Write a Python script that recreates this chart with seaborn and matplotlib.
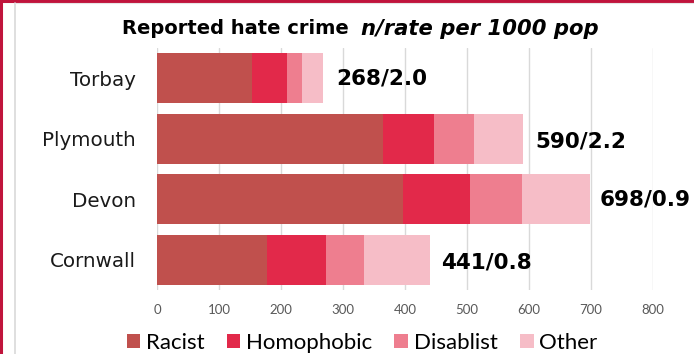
import matplotlib
matplotlib.use("Agg")
import matplotlib.pyplot as plt
import seaborn as sns
import pandas as pd
import numpy as np
from matplotlib.lines import Line2D
from matplotlib.patches import Patch

areas = ["Torbay", "Plymouth", "Devon", "Cornwall"]
racist = [154, 365, 396, 178]
homophobic = [55, 82, 109, 95]
disablist = [25, 64, 83, 61]
other = [34, 79, 110, 107]
totals = [268, 590, 698, 441]
rates = ["2.0", "2.2", "0.9", "0.8"]
series_names = ["Racist", "Homophobic", "Disablist", "Other"]
colors = ["#C0504D", "#E2294A", "#EE7E8F", "#F6BDC7"]

sns.set_theme(style="white")
plt.rcParams["font.family"] = ["DejaVu Sans"]
plt.rcParams["text.color"] = "black"

fig = plt.figure(figsize=(6.94, 3.54), dpi=100)
ax = fig.add_axes([157/694, 1-290/354, (653-157)/694, (290-48)/354])

series = [racist, homophobic, disablist, other]
cum = np.cumsum(np.array(series), axis=0)
for i in range(len(series) - 1, -1, -1):
    df = pd.DataFrame({"area": areas, "value": cum[i]})
    sns.barplot(data=df, x="value", y="area", orient="h", color=colors[i],
                width=0.83, saturation=1, ax=ax, linewidth=0, zorder=3)

ax.set_xlim(0, 800)
ax.set_ylim(3.5, -0.5)
ax.set_xticks(range(0, 801, 100))
ax.grid(axis="x", color="#D9D9D9", linewidth=1, zorder=0)
ax.set_axisbelow(True)
for s in ax.spines.values():
    s.set_visible(False)
ax.tick_params(axis="x", length=0, pad=10, labelsize=9.5, labelcolor="#595959")
ax.tick_params(axis="y", length=0, pad=15, labelsize=14.3, labelcolor="#1a1a1a")
for lab in ax.get_xticklabels():
    lab.set_family("Lato")
ax.set_xlabel("")
ax.set_ylabel("")

offs = [13, 13, 10, 11]
dys = [0, 0.05, 0, 0.05]
for i, (t, r) in enumerate(zip(totals, rates)):
    ax.text(t + offs[i] / 0.62, i + dys[i], f"{t}/{r}", va="center", ha="left",
            fontsize=15.5, fontweight="bold", color="black")

fig.text(349/694, 1-29/354, "Reported hate crime", ha="right", va="center",
         fontsize=14, fontweight="bold", family="DejaVu Sans", color="black")
fig.text(361/694, 1-29/354, "n/rate per 1000 pop", ha="left", va="center",
         fontsize=15.2, fontweight="bold", style="italic", family="DejaVu Sans", color="black")

handles = [Patch(facecolor=c, edgecolor="none", label=n) for c, n in zip(colors, series_names)]
fig.legend(handles=handles, loc="center", bbox_to_anchor=(362/694, 1-343/354),
           ncol=4, frameon=False, prop={"family": "Lato", "size": 16},
           handlelength=0.62, handleheight=0.62, handletextpad=0.25, columnspacing=1.0,
           labelcolor="black")

# borders
fig.add_artist(Line2D([0, 1], [1-1/354, 1-1/354], color="#C0143C", linewidth=2.2, transform=fig.transFigure))
fig.add_artist(Line2D([1/694, 1/694], [0, 1], color="#C0143C", linewidth=2.2, transform=fig.transFigure))
fig.add_artist(Line2D([15/694, 15/694], [0, 1-3/354], color="#D9D9D9", linewidth=1.2, transform=fig.transFigure))
fig.add_artist(Line2D([15/694, 1], [1-3/354, 1-3/354], color="#E6E6E6", linewidth=0.8, transform=fig.transFigure))

fig.savefig("out.png", dpi=100)
